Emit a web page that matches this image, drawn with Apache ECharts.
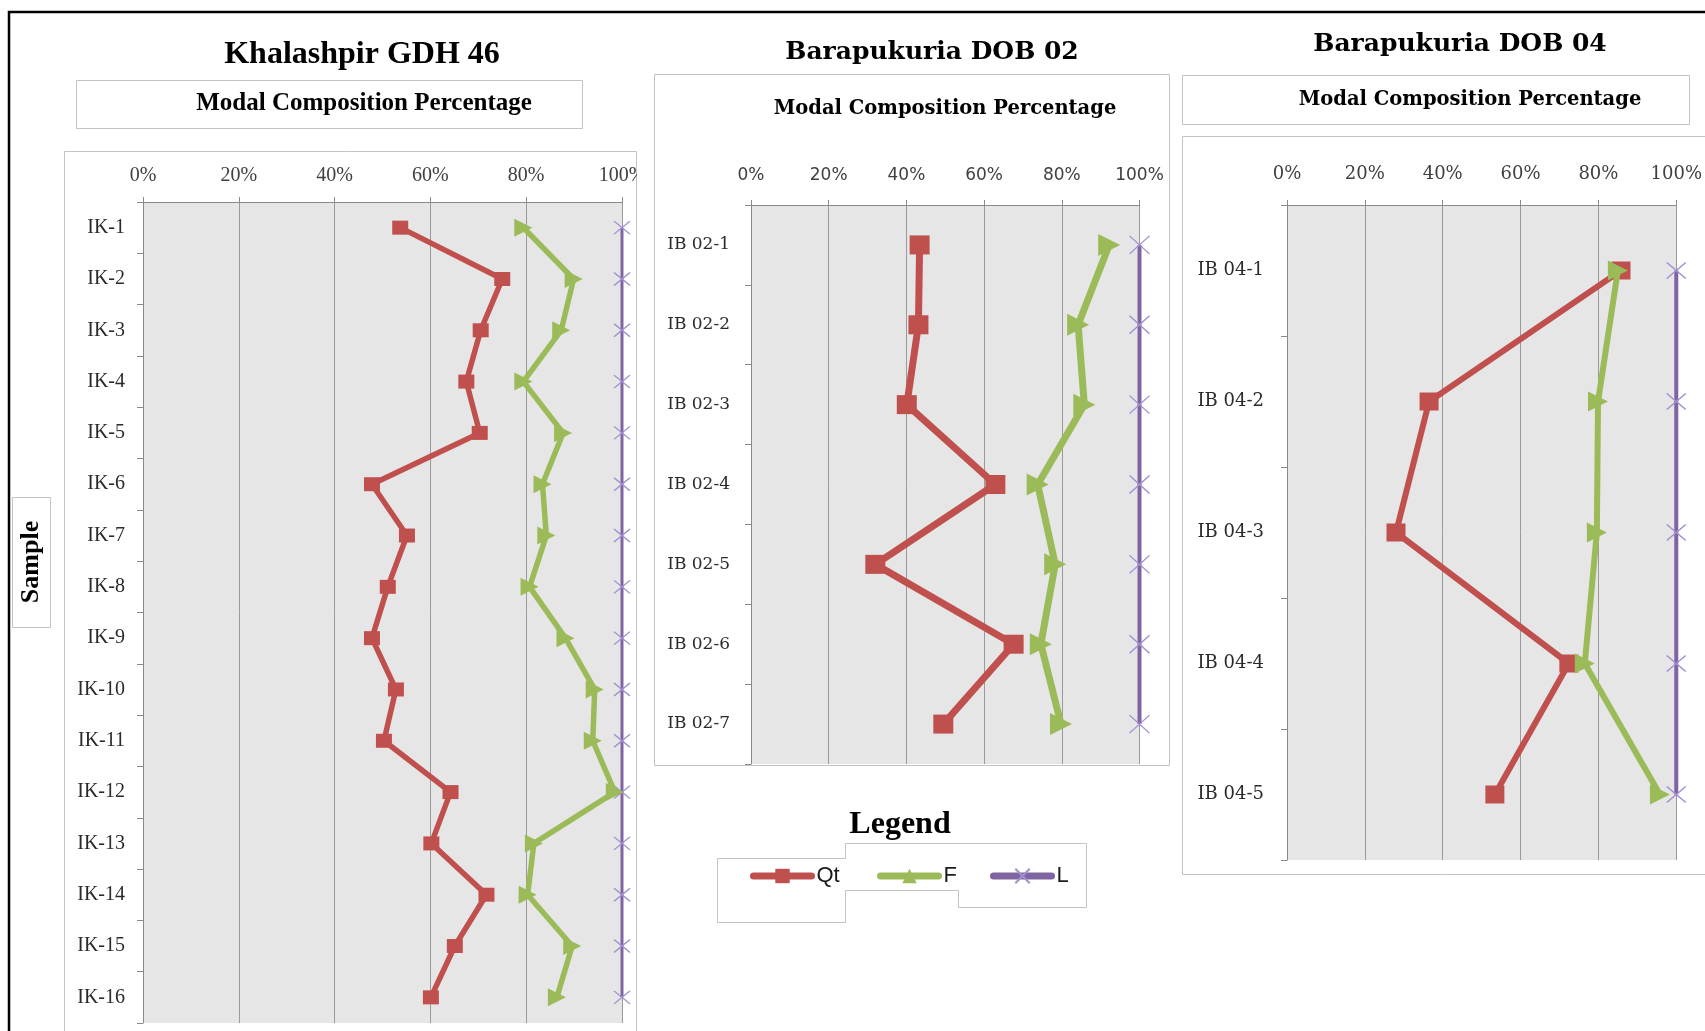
<!DOCTYPE html>
<html>
<head>
<meta charset="utf-8">
<script src="https://cdn.jsdelivr.net/npm/echarts@6/dist/echarts.min.js"></script>
<style>html,body{margin:0;padding:0;background:#fff}#c{width:1705px;height:1031px}</style>
</head>
<body>
<div id="c"></div>
<script>
// ---- Data ----
const cat1 = ['IK-1','IK-2','IK-3','IK-4','IK-5','IK-6','IK-7','IK-8','IK-9','IK-10','IK-11','IK-12','IK-13','IK-14','IK-15','IK-16'];
const qt1 = [53.7,75.0,70.5,67.5,70.3,47.8,55.1,51.1,47.8,52.8,50.3,64.2,60.2,71.7,65.1,60.1];
const f1  = [79.4,89.9,87.3,79.4,87.7,83.4,84.2,80.7,88.2,94.3,93.9,98.5,81.6,80.3,89.6,86.4];
const l1  = [100,100,100,100,100,100,100,100,100,100,100,100,100,100,100,100];

const cat2 = ['IB 02-1','IB 02-2','IB 02-3','IB 02-4','IB 02-5','IB 02-6','IB 02-7'];
const qt2 = [43.4,43.1,40.1,62.9,32.0,67.6,49.5];
const f2  = [92.2,84.2,85.8,73.8,78.3,74.6,79.8];
const l2  = [100,100,100,100,100,100,100];

const cat3 = ['IB 04-1','IB 04-2','IB 04-3','IB 04-4','IB 04-5'];
const qt3 = [85.8,36.5,28.0,72.4,53.4];
const f3  = [85.0,79.9,79.6,76.5,95.8];
const l3  = [100,100,100,100,100];

const xTicks = {min: 0, max: 100, interval: 20};
const seriesNames = ['Qt','F','L'];

// ---- Styles ----
const RED = '#c0504d', GREEN = '#9bbb59', PURPLE = '#8064a2', XCOL = '#a28fd0';
const AX = '#8a8a8a';
const CROSS = 'path://M0,0L10,10M10,0L0,10';

function pairs(vals, cats){ return vals.map((v,i)=>[v, cats[i]]); }

const panels = [
  {cats: cat1, qt: qt1, f: f1, l: l1, grid:{left:143, top:202, width:479, height:821},
   tickFont:{fontFamily:'Liberation Serif', fontSize:20, margin:16},
   catFont:{fontFamily:'Liberation Serif', fontSize:20, margin:18},
   sq:[16,14], tri:18, lw:5.5, llw:3, cross:[16,13]},
  {cats: cat2, qt: qt2, f: f2, l: l2, grid:{left:751, top:205, width:388.5, height:559},
   tickFont:{fontFamily:'DejaVu Sans', fontSize:17, margin:21},
   catFont:{fontFamily:'DejaVu Serif', fontSize:17, margin:21},
   sq:[20,19], tri:22, lw:7, llw:4, cross:[20,18]},
  {cats: cat3, qt: qt3, f: f3, l: l3, grid:{left:1287, top:205, width:392.5, height:655},
   tickFont:{fontFamily:'DejaVu Serif', fontSize:18, margin:22},
   catFont:{fontFamily:'DejaVu Serif', fontSize:18, margin:23},
   sq:[19,18], tri:20, lw:6, llw:4, cross:[19,16]}
];

const grids = [], xAxes = [], yAxes = [], series = [];
panels.forEach((p, i) => {
  grids.push(Object.assign({show:true, backgroundColor:'#e6e6e6', borderWidth:0, containLabel:false}, p.grid));
  xAxes.push({
    type:'value', gridIndex:i, position:'top', min:xTicks.min, max:xTicks.max, interval:xTicks.interval,
    axisLine:{show:true, lineStyle:{color:AX, width:1}},
    axisTick:{show:true, length:5, lineStyle:{color:AX}},
    splitLine:{show:true, lineStyle:{color:'#9a9a9a', width:1}},
    axisLabel:{formatter:'{value}%', color:'#404040', fontFamily:p.tickFont.fontFamily, fontSize:p.tickFont.fontSize, margin:p.tickFont.margin}
  });
  yAxes.push({
    type:'category', gridIndex:i, data:p.cats, inverse:true,
    axisLine:{show:true, lineStyle:{color:AX, width:1}},
    axisTick:{show:true, length:6, lineStyle:{color:AX}},
    splitLine:{show:false},
    axisLabel:{color:'#2a2a2a', fontFamily:p.catFont.fontFamily, fontSize:p.catFont.fontSize, margin:p.catFont.margin}
  });
  series.push({
    name:seriesNames[0], type:'line', xAxisIndex:i, yAxisIndex:i, data:pairs(p.qt, p.cats),
    symbol:'rect', symbolSize:p.sq, clip:false, z:3,
    lineStyle:{color:RED, width:p.lw}, itemStyle:{color:RED}
  });
  series.push({
    name:seriesNames[1], type:'line', xAxisIndex:i, yAxisIndex:i, data:pairs(p.f, p.cats),
    symbol:'triangle', symbolSize:p.tri, symbolRotate:-90, clip:false, z:4,
    lineStyle:{color:GREEN, width:p.lw}, itemStyle:{color:GREEN}
  });
  series.push({
    name:seriesNames[2], type:'line', xAxisIndex:i, yAxisIndex:i, data:pairs(p.l, p.cats),
    symbol:CROSS, symbolSize:p.cross, clip:false, z:2,
    lineStyle:{color:PURPLE, width:p.llw}, itemStyle:{color:'rgba(0,0,0,0)', borderColor:XCOL, borderWidth:1.3}
  });
});

const legTxt = {fontFamily:'Liberation Sans', fontSize:22, color:'#1a1a1a'};
const legends = [
  {data:['Qt'], left:750, top:865},
  {data:['F'], left:877, top:865},
  {data:['L'], left:990, top:865}
].map(l => Object.assign({orient:'horizontal', padding:0, itemWidth:58, itemHeight:18, selectedMode:false,
  symbolRotate:0, textStyle:legTxt, lineStyle:{width:7, cap:'round'}}, l));

const boxStroke = '#c3c3c3';
function rect(x,y,w,h){ return {type:'rect', shape:{x:x,y:y,width:w,height:h}, style:{fill:'none', stroke:boxStroke, lineWidth:1}, silent:true}; }
function txt(x,y,t,font,size,extra){ return Object.assign({type:'text', x:x, y:y, style:{text:t, fontFamily:font, fontSize:size, fontWeight:'bold', fill:'#000', align:'center', verticalAlign:'middle'}, silent:true}, extra||{}); }

const graphics = [
  {type:'polyline', shape:{points:[[9,1040],[9,12],[1710,12]]}, style:{stroke:'#000', lineWidth:2.5, fill:'none'}, silent:true},
  // panel 1 boxes
  rect(64.5,151.5,572,900),
  rect(76.5,80.5,506,48),
  rect(12.5,497.5,38,130),
  // panel 2 box
  rect(654.5,74.5,515,691),
  // panel 3 boxes
  rect(1182.5,75.5,507,49),
  rect(1182.5,136.5,600,738),
  // legend outline
  {type:'polygon', shape:{points:[[717.5,858.5],[845.5,858.5],[845.5,843.5],[1086.5,843.5],[1086.5,907.5],[958.5,907.5],[958.5,890.5],[845.5,890.5],[845.5,922.5],[717.5,922.5]]}, style:{fill:'none', stroke:boxStroke, lineWidth:1}, silent:true},
  // cover clipping "100%" of panel 1 beyond box edge
  {type:'rect', shape:{x:637, y:158, width:14, height:34}, style:{fill:'#fff'}, z:100, silent:true},
  // titles
  txt(362,55,'Khalashpir GDH 46','Liberation Serif',32),
  txt(364,104,'Modal Composition Percentage','Liberation Serif',25),
  txt(932,52,'Barapukuria DOB 02','DejaVu Serif',25),
  txt(945,109,'Modal Composition Percentage','DejaVu Serif',19.5),
  txt(1460,44,'Barapukuria DOB 04','DejaVu Serif',25),
  txt(1470,100,'Modal Composition Percentage','DejaVu Serif',19.5),
  txt(900,825,'Legend','Liberation Serif',32),
  txt(31,562,'Sample','Liberation Serif',26,{rotation:Math.PI/2})
];

const chart = echarts.init(document.getElementById('c'), null, {renderer:'canvas'});
chart.setOption({
  animation:false,
  backgroundColor:'#fff',
  grid:grids, xAxis:xAxes, yAxis:yAxes, series:series,
  legend:legends,
  graphic:graphics
});
</script>
</body>
</html>
